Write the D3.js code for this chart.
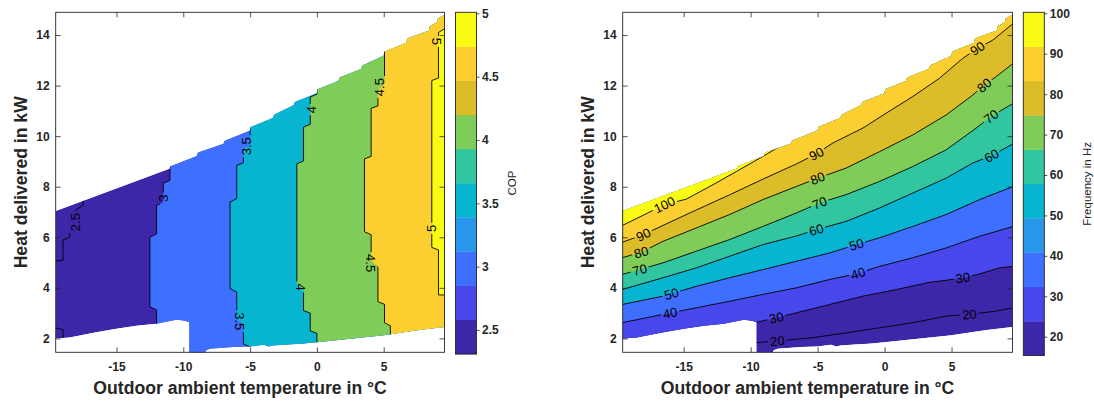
<!DOCTYPE html>
<html lang="en">
<head>
<meta charset="UTF-8">
<title>COP and compressor frequency maps</title>
<script src="https://cdn.jsdelivr.net/npm/d3@7"></script>
<style>
    body { margin: 0; background: #fff; }
    svg text { font-family: "Liberation Sans", Arial, Helvetica, sans-serif; }
</style>
</head>
<body>
<svg id="chart" width="1094" height="403"></svg>
<script>
    // parula(10) colour map
    var parula10 = ["#3e26a8", "#4747eb", "#3e6fff", "#2796eb", "#08b5d0",
                    "#31c69f", "#80cc59", "#dcbd29", "#fccf30", "#f9fb15"];

    var tempDomain = [-19.55, 9.55];   // outdoor ambient temperature, degC
    var heatDomain = [1.45, 14.9];     // heat delivered, kW
    var tempTicks = [-15, -10, -5, 0, 5];
    var heatTicks = [2, 4, 6, 8, 10, 12, 14];

    // operating envelope of the measured map [temp, heat]
    var envTop = [[-19.55, 7.04], [-11.0, 8.72], [-11.0, 8.80], [-9.0, 9.22], [-8.9, 9.35],
        [-7.0, 9.70], [-6.9, 9.82], [-5.0, 10.22], [-4.95, 10.36], [-3.3, 10.72], [-3.2, 10.85],
        [-1.75, 11.22], [-1.65, 11.35], [0.0, 11.70], [0.05, 11.86], [1.6, 12.18], [1.7, 12.32],
        [3.3, 12.66], [3.4, 12.80], [5.0, 13.18], [5.05, 13.34], [6.7, 13.70], [6.75, 13.86],
        [8.4, 14.18], [8.45, 14.35], [9.0, 14.52], [9.05, 14.65], [9.55, 14.80]];
    var envBottom = [[-19.55, 2.00], [-18.5, 2.04], [-16.7, 2.22], [-15.0, 2.38], [-13.5, 2.50],
        [-12.0, 2.58], [-10.5, 2.74], [-9.9, 2.70], [-9.55, 2.64], [-9.55, 1.2], [-8.5, 1.2],
        [-8.3, 1.52], [-8.0, 1.59], [-6.2, 1.66], [-5.0, 1.68], [-4.0, 1.75], [-3.6, 1.68],
        [-3.3, 1.72], [-2.2, 1.76], [-1.2, 1.79], [0.0, 1.85], [2.5, 1.99], [5.0, 2.12],
        [7.5, 2.32], [8.1, 2.36], [9.55, 2.45]];

    // COP isolines [temp, heat], drawn bottom to top
    var copLevels = [2.5, 3, 3.5, 4, 4.5, 5];
    var cop25top = [[-19.6, 5.05], [-19.0, 5.1], [-19.0, 5.9], [-18.5, 6.0], [-18.5, 6.45],
        [-18.0, 6.55], [-18.0, 7.1], [-17.5, 7.26], [-17.5, 7.8]];
    var cop25bottom = [[-19.6, 2.42], [-19.0, 2.35], [-19.0, 1.9]];
    var cop30 = [[-12.0, 2.4], [-12.0, 3.12], [-12.5, 3.25], [-12.5, 6.0], [-12.0, 6.14],
        [-12.0, 7.26], [-11.5, 7.39], [-11.5, 8.14], [-11.0, 8.25], [-11.0, 9.2]];
    var cop35 = [[-5.0, 1.3], [-5.0, 1.66], [-5.5, 1.78], [-5.5, 2.55], [-6.0, 2.75],
        [-6.0, 3.83], [-6.5, 3.97], [-6.5, 7.39], [-6.0, 7.53], [-6.0, 8.84], [-5.5, 8.95],
        [-5.5, 9.5], [-5.0, 9.65], [-5.0, 10.7]];
    var cop40 = [[0.0, 1.5], [0.0, 2.2], [-0.5, 2.3], [-0.5, 3.0], [-1.0, 3.1], [-1.0, 3.95],
        [-1.5, 4.1], [-1.5, 8.91], [-1.0, 9.02], [-1.0, 10.36], [-0.5, 10.47], [-0.5, 11.55],
        [0.0, 11.66], [0.0, 12.3]];
    var cop45 = [[5.5, 1.8], [5.5, 2.5], [5.06, 2.62], [5.06, 3.35], [4.57, 3.45], [4.57, 4.8],
        [4.06, 5.1], [4.06, 6.1], [3.56, 6.22], [3.56, 9.1], [4.06, 9.2], [4.06, 11.1],
        [4.57, 11.2], [4.57, 11.8], [5.06, 12.1], [5.06, 13.8]];
    var cop50 = [[12.0, 3.7], [9.1, 3.72], [9.1, 5.5], [8.6, 5.6], [8.6, 12.2], [9.1, 12.3],
        [9.1, 14.1], [9.55, 14.25], [12.0, 14.3]];
    var copLines = [[cop25top, cop25bottom], [cop30], [cop35], [cop40], [cop45], [cop50]];
    // labels: [level index, temp, heat, rotation]
    var copLabels = [[0, -18.1, 6.6, -90], [1, -11.5, 7.55, -90], [2, -5.25, 9.6, -90],
        [2, -5.8, 2.68, 90], [3, -0.45, 11.05, -90], [3, -1.2, 4.03, 90], [4, 4.66, 11.94, -90],
        [4, 4.0, 4.98, 90], [5, 9.0, 13.75, 90], [5, 8.55, 6.35, -90]];

    // compressor frequency isolines [temp, heat], drawn left to right
    var freqLevels = [20, 30, 40, 50, 60, 70, 80, 90, 100];
    var freq20 = [[-30, 0], [-9.55, 0], [-9.55, 1.83], [-7.34, 1.93], [-5.35, 2.03], [-2.86, 2.22],
        [-0.37, 2.42], [2.11, 2.62], [4.6, 2.88], [6.34, 2.95], [8.33, 3.08], [9.6, 3.21]];
    var freq30 = [[-30, 0], [-9.55, 0], [-9.55, 2.64], [-8.08, 2.82], [-6.59, 3.01], [-4.1, 3.34],
        [-1.62, 3.67], [0.87, 3.93], [3.36, 4.22], [4.6, 4.3], [5.84, 4.4], [7.09, 4.55],
        [8.58, 4.79], [9.6, 4.85]];
    var freq40 = [[-19.6, 2.62], [-16.54, 2.95], [-14.05, 3.21], [-11.57, 3.47], [-9.08, 3.74],
        [-6.59, 4.0], [-4.1, 4.33], [-1.99, 4.57], [-0.37, 4.85], [2.11, 5.19], [4.6, 5.58],
        [7.09, 6.04], [9.6, 6.43]];
    var freq50 = [[-19.6, 3.34], [-16.54, 3.67], [-14.05, 4.06], [-11.57, 4.4], [-9.08, 4.72],
        [-6.59, 5.05], [-4.1, 5.38], [-2.11, 5.71], [-0.37, 5.98], [2.11, 6.43], [4.6, 6.9],
        [7.09, 7.49], [9.6, 8.01]];
    var freq60 = [[-19.6, 3.93], [-16.54, 4.4], [-14.05, 4.79], [-11.57, 5.25], [-9.08, 5.71],
        [-6.59, 6.05], [-5.1, 6.3], [-2.86, 6.63], [-0.37, 7.16], [2.11, 7.75], [4.6, 8.34],
        [6.59, 8.94], [7.96, 9.22], [9.6, 9.7]];
    var freq70 = [[-19.6, 4.53], [-18.28, 4.72], [-16.54, 4.99], [-14.05, 5.45], [-11.57, 5.91],
        [-9.08, 6.43], [-6.59, 6.96], [-4.85, 7.36], [-2.86, 7.69], [-0.37, 8.21], [2.11, 8.8],
        [4.6, 9.46], [6.84, 10.32], [7.96, 10.78], [9.6, 11.3]];
    var freq80 = [[-19.6, 5.19], [-18.16, 5.41], [-16.54, 5.84], [-14.05, 6.37], [-11.57, 6.9],
        [-9.08, 7.49], [-6.59, 8.01], [-4.98, 8.34], [-2.86, 8.74], [-0.37, 9.39], [2.11, 10.05],
        [4.6, 10.84], [6.59, 11.63], [7.46, 12.03], [8.34, 12.36], [9.6, 12.88]];
    var freq90 = [[-19.6, 5.8], [-18.03, 6.1], [-14.55, 6.96], [-11.57, 7.68], [-9.08, 8.3],
        [-6.59, 8.9], [-5.1, 9.3], [-3.86, 9.73], [-1.62, 10.32], [0.12, 10.91], [2.11, 11.57],
        [4.1, 12.29], [5.84, 13.08], [6.96, 13.48], [8.08, 13.8], [9.6, 14.46]];
    var freq100 = [[-19.6, 6.46], [-16.42, 7.29], [-14.8, 7.51], [-12.81, 8.08], [-11.07, 8.6],
        [-9.08, 9.2], [-7.84, 9.59], [-7.0, 9.82], [-6.0, 10.08], [-5.0, 10.35]];
    var freqLines = [[freq20], [freq30], [freq40], [freq50], [freq60], [freq70], [freq80],
        [freq90], [freq100]];
    // labels: [level index, temp, heat] (rotation follows the line)
    var freqLabels = [[0, -8.0, 1.89], [0, 6.34, 2.95], [1, -8.08, 2.82], [1, 5.84, 4.4],
        [2, -16.0, 3.0], [2, -2.0, 4.6], [3, -15.9, 3.75], [3, -2.1, 5.71], [4, -5.1, 6.3],
        [4, 7.96, 9.25], [5, -18.3, 4.75], [5, -4.85, 7.36], [5, 7.96, 10.78], [6, -18.2, 5.45],
        [6, -5.0, 8.34], [6, 7.46, 12.0], [7, -18.0, 6.1], [7, -5.1, 9.3], [7, 6.96, 13.45],
        [8, -16.4, 7.25]];

    var copTicks = [2.5, 3, 3.5, 4, 4.5, 5];
    var freqTicks = [20, 30, 40, 50, 60, 70, 80, 90, 100];

    var svg = d3.select("#chart");
    var defs = svg.append("defs");
    var axisColor = "#262626";
    var plain = function (v) { return String(v); };

    drawPanel({
        id: "cop", left: 55.7, right: 444.5, top: 12.3, bottom: 352.3,
        cbLeft: 455.5, cbRight: 476.5, cbTop: 12.3, cbBottom: 354,
        cmin: 2.31, cmax: 5.008, levels: copLevels, lines: copLines, labels: copLabels,
        vertical: true, cbTicks: copTicks, cbTitle: "COP", cbTitleX: 516
    });
    drawPanel({
        id: "freq", left: 622.7, right: 1012.5, top: 12.3, bottom: 352.3,
        cbLeft: 1023.3, cbRight: 1044.3, cbTop: 12.3, cbBottom: 355.5,
        cmin: 15.35, cmax: 100.25, levels: freqLevels, lines: freqLines, labels: freqLabels,
        vertical: false, cbTicks: freqTicks, cbTitle: "Frequency in Hz", cbTitleX: 1091
    });

    // MATLAB contourf: region above a level takes the colour of that level
    function levelColor(v, cmin, cmax) {
        var i = Math.floor((v - cmin) / (cmax - cmin) * 10);
        return parula10[Math.max(0, Math.min(9, i))];
    }

    function drawPanel(p) {
        var x = d3.scaleLinear().domain(tempDomain).range([p.left, p.right]);
        var y = d3.scaleLinear().domain(heatDomain).range([p.bottom, p.top]);
        var path = d3.line().x(function (d) { return x(d[0]); }).y(function (d) { return y(d[1]); });
        var envPts = envTop.concat(envBottom.slice().reverse());

        defs.append("clipPath").attr("id", p.id + "-box").append("rect")
            .attr("x", p.left).attr("y", p.top)
            .attr("width", p.right - p.left).attr("height", p.bottom - p.top);
        defs.append("clipPath").attr("id", p.id + "-env").append("path")
            .attr("d", path(envPts) + "Z");

        var g = svg.append("g").attr("clip-path", "url(#" + p.id + "-box)")
            .append("g").attr("clip-path", "url(#" + p.id + "-env)");

        // filled bands
        g.append("path").attr("d", path(envPts) + "Z")
            .attr("fill", levelColor(p.cmin, p.cmin, p.cmax));
        p.levels.forEach(function (lev, i) {
            var pts = p.lines[i][0];
            if (lev === 2.5) return; // same colour as the base band
            var first = pts[0], last = pts[pts.length - 1];
            var poly;
            if (p.vertical) {
                poly = pts.concat([[last[0], 60], [60, 60], [60, -10], [first[0], -10]]);
            } else {
                poly = pts.concat([[last[0], 60], [first[0], 60]]);
            }
            g.append("path").attr("d", path(poly) + "Z")
                .attr("fill", levelColor(lev, p.cmin, p.cmax));
        });

        // contour lines with gaps under the labels
        var mask = defs.append("mask").attr("id", p.id + "-mask")
            .attr("maskUnits", "userSpaceOnUse")
            .attr("x", 0).attr("y", 0).attr("width", 1094).attr("height", 403);
        mask.append("rect").attr("width", 1094).attr("height", 403).attr("fill", "#fff");

        var lineG = g.append("g").attr("mask", "url(#" + p.id + "-mask)");
        p.lines.forEach(function (pieces) {
            pieces.forEach(function (pts) {
                var shown = pts.filter(function (d) { return d[1] > 0.5; });
                lineG.append("path").attr("d", path(shown))
                    .attr("fill", "none").attr("stroke", "#000")
                    .attr("stroke-width", 0.9).attr("stroke-linejoin", "miter");
            });
        });

        var labelG = svg.append("g");
        p.labels.forEach(function (lb) {
            var px = x(lb[1]), py = y(lb[2]), rot = lb[3];
            if (rot === undefined) {
                // snap to the isoline and follow its direction
                var best = null;
                var pts = p.lines[lb[0]][0].filter(function (d) { return d[1] > 0.5; })
                    .map(function (d) { return [x(d[0]), y(d[1])]; });
                for (var k = 0; k < pts.length - 1; k++) {
                    var a = pts[k], b = pts[k + 1];
                    var dx = b[0] - a[0], dy = b[1] - a[1];
                    var t = ((px - a[0]) * dx + (py - a[1]) * dy) / (dx * dx + dy * dy);
                    t = Math.max(0, Math.min(1, t));
                    var qx = a[0] + t * dx, qy = a[1] + t * dy;
                    var dist = (qx - px) * (qx - px) + (qy - py) * (qy - py);
                    if (best === null || dist < best.d) {
                        best = { d: dist, x: qx, y: qy, ang: Math.atan2(dy, dx) * 180 / Math.PI };
                    }
                }
                px = best.x; py = best.y; rot = best.ang;
                if (rot > 90) rot -= 180;
                if (rot < -90) rot += 180;
            }
            var txt = labelG.append("text")
                .attr("transform", "translate(" + px + "," + py + ") rotate(" + rot + ")")
                .attr("text-anchor", "middle").attr("dy", "0.36em")
                .attr("font-size", 13).attr("fill", "#000")
                .text(plain(p.levels[lb[0]]));
            var w = txt.node().getComputedTextLength() + 4;
            mask.append("rect")
                .attr("x", -w / 2).attr("y", -6.5).attr("width", w).attr("height", 13)
                .attr("transform", "translate(" + px + "," + py + ") rotate(" + rot + ")")
                .attr("fill", "#000");
        });

        // axes (MATLAB box with inward ticks)
        var axG = svg.append("g");
        axG.append("g").attr("transform", "translate(0," + p.bottom + ")")
            .call(d3.axisBottom(x).tickValues(tempTicks).tickFormat(plain)
                .tickSizeInner(-5).tickSizeOuter(0).tickPadding(10));
        axG.append("g").attr("transform", "translate(0," + p.top + ")")
            .call(d3.axisTop(x).tickValues(tempTicks).tickSizeInner(-5).tickSizeOuter(0).tickFormat(""));
        axG.append("g").attr("transform", "translate(" + p.left + ",0)")
            .call(d3.axisLeft(y).tickValues(heatTicks).tickFormat(plain)
                .tickSizeInner(-5).tickSizeOuter(0).tickPadding(6));
        axG.append("g").attr("transform", "translate(" + p.right + ",0)")
            .call(d3.axisRight(y).tickValues(heatTicks).tickSizeInner(-5).tickSizeOuter(0).tickFormat(""));
        axG.selectAll(".domain").remove();
        axG.selectAll(".tick line").attr("stroke", axisColor).attr("stroke-width", 0.8);
        axG.selectAll(".tick text").attr("fill", axisColor).attr("font-size", 12)
            .attr("font-weight", "bold").attr("font-family", null);
        axG.append("rect").attr("x", p.left).attr("y", p.top)
            .attr("width", p.right - p.left).attr("height", p.bottom - p.top)
            .attr("fill", "none").attr("stroke", axisColor).attr("stroke-width", 0.9);

        svg.append("text")
            .attr("x", (p.left + p.right) / 2 - 10).attr("y", 394)
            .attr("text-anchor", "middle").attr("font-size", 17.6).attr("font-weight", "bold")
            .attr("fill", axisColor)
            .text("Outdoor ambient temperature in \u00B0C");
        svg.append("text")
            .attr("transform", "translate(" + (p.left - 28.5) + "," + ((p.top + p.bottom) / 2) + ") rotate(-90)")
            .attr("text-anchor", "middle").attr("font-size", 17.6).attr("font-weight", "bold")
            .attr("fill", axisColor)
            .text("Heat delivered in kW");

        // colour bar
        var c = d3.scaleLinear().domain([p.cmin, p.cmax]).range([p.cbBottom, p.cbTop]);
        var bands = d3.range(10).map(function (i) {
            return [p.cmin + (p.cmax - p.cmin) * i / 10, p.cmin + (p.cmax - p.cmin) * (i + 1) / 10];
        });
        var cbG = svg.append("g");
        cbG.selectAll("rect.band").data(bands).enter().append("rect")
            .attr("class", "band")
            .attr("x", p.cbLeft).attr("width", p.cbRight - p.cbLeft)
            .attr("y", function (d) { return c(d[1]); })
            .attr("height", function (d) { return c(d[0]) - c(d[1]) + 0.3; })
            .attr("fill", function (d, i) { return parula10[i]; });
        cbG.append("rect").attr("x", p.cbLeft).attr("y", p.cbTop)
            .attr("width", p.cbRight - p.cbLeft).attr("height", p.cbBottom - p.cbTop)
            .attr("fill", "none").attr("stroke", axisColor).attr("stroke-width", 0.9);
        var cbAxis = cbG.append("g").attr("transform", "translate(" + p.cbRight + ",0)")
            .call(d3.axisRight(c).tickValues(p.cbTicks).tickFormat(plain)
                .tickSizeInner(3).tickSizeOuter(0).tickPadding(2.5));
        cbAxis.select(".domain").remove();
        cbAxis.selectAll(".tick line").attr("stroke", axisColor).attr("stroke-width", 0.8);
        cbAxis.selectAll(".tick text").attr("fill", axisColor).attr("font-size", 12)
            .attr("font-weight", "bold").attr("font-family", null);
        svg.append("text")
            .attr("transform", "translate(" + p.cbTitleX + "," + ((p.cbTop + p.cbBottom) / 2) + ") rotate(-90)")
            .attr("text-anchor", "middle").attr("font-size", 11.5).attr("fill", axisColor)
            .text(p.cbTitle);
    }
</script>
</body>
</html>
